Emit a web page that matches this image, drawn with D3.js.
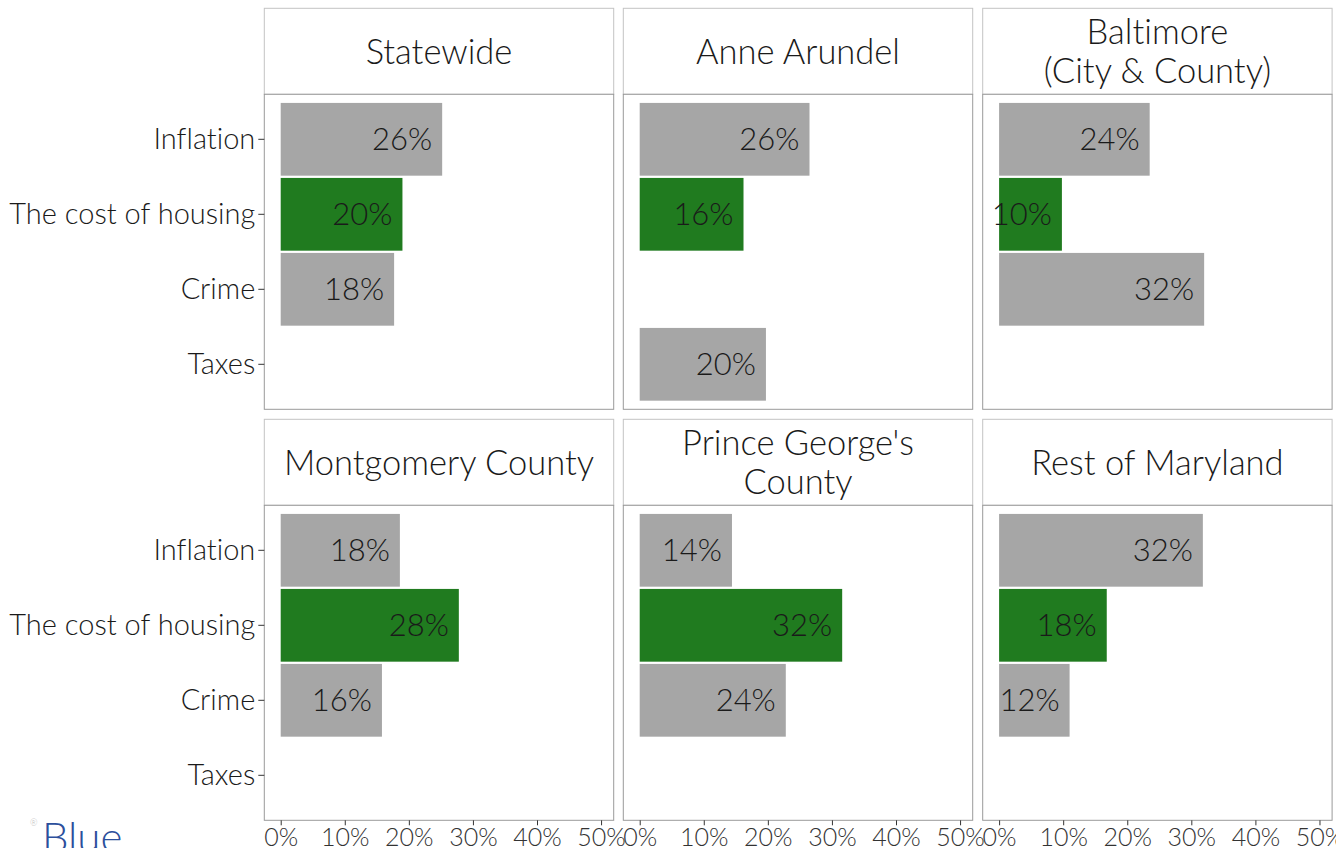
<!DOCTYPE html>
<html>
<head>
<meta charset="utf-8">
<script src="https://cdn.jsdelivr.net/npm/d3@7"></script>
<style>
  body { margin: 0; background: #fff; }
  svg { display: block; font-family: "Lato", "Helvetica Neue", sans-serif; font-weight: 300; font-variant-ligatures: none; }
  svg text { font-family: "Lato", "Helvetica Neue", sans-serif; font-weight: 300; }
</style>
</head>
<body>
<script>
// Chart data
var categories = ["Inflation", "The cost of housing", "Crime", "Taxes"];
var regions = ["Statewide", "Anne Arundel", "Baltimore\n(City & County)",
  "Montgomery County", "Prince George's\nCounty", "Rest of Maryland"];

// bar lengths (percent), one entry per region, null = not shown
var inflation = [25.2, 26.5, 23.5, 18.6, 14.4, 31.8];
var housing   = [19.0, 16.2, 9.8, 27.8, 31.6, 16.8];
var crime     = [17.7, null, 32.0, 15.8, 22.8, 11.0];
var taxes     = [null, 19.7, null, null, null, null];

// printed labels (percent)
var inflationLabels = [26, 26, 24, 18, 14, 32];
var housingLabels   = [20, 16, 10, 28, 32, 18];
var crimeLabels     = [18, null, 32, 16, 24, 12];
var taxesLabels     = [null, 20, null, null, null, null];

var xTicks = [0, 10, 20, 30, 40, 50];
var highlight = "The cost of housing";

// Chart params
var svgWidth = 1336;
var svgHeight = 848;
var panelWidth = 349.4;
var panelHeight = 315;
var stripHeight = 86;
var colX = [264.3, 623.3, 982.7];
var rowY = [8.3, 419.3];

var seriesValues = [inflation, housing, crime, taxes];
var seriesLabels = [inflationLabels, housingLabels, crimeLabels, taxesLabels];

var svg = d3.select("body")
  .append("svg")
  .attr("width", svgWidth)
  .attr("height", svgHeight);

var xScale = d3.scaleLinear()
  .domain([-2.56, 51.97])
  .range([0, panelWidth]);

// 0.6 step of padding round the categories, bars 0.97 of a step
var yScale = d3.scaleBand()
  .domain(categories)
  .range([0, panelHeight])
  .paddingInner(0.03)
  .paddingOuter(0.115);

regions.forEach(function(region, i) {
  var col = i % 3;
  var row = Math.floor(i / 3);

  var g = svg.append("g")
    .attr("transform", `translate(${colX[col]}, ${rowY[row]})`);

  // strip
  g.append("rect")
    .attr("width", panelWidth)
    .attr("height", stripHeight)
    .attr("fill", "#fff")
    .attr("stroke", "#c4c4c4")
    .attr("stroke-width", 1);

  var lines = region.split("\n");
  var lineH = 39;
  var strip = g.append("text")
    .attr("x", panelWidth / 2)
    .attr("text-anchor", "middle")
    .style("font-size", "34.5px")
    .attr("fill", "#1a1a1a");
  lines.forEach(function(line, k) {
    strip.append("tspan")
      .attr("x", panelWidth / 2)
      .attr("y", stripHeight / 2 + (k - (lines.length - 1) / 2) * lineH)
      .attr("dy", "0.36em")
      .text(line);
  });

  var panel = g.append("g")
    .attr("transform", `translate(0, ${stripHeight})`);

  panel.append("rect")
    .attr("width", panelWidth)
    .attr("height", panelHeight)
    .attr("fill", "#fff");

  var rows = categories.map(function(c, j) {
    return { cat: c, value: seriesValues[j][i], label: seriesLabels[j][i] };
  }).filter(function(d) { return d.value != null; });

  panel.selectAll(".bar")
    .data(rows)
    .enter()
    .append("rect")
    .attr("class", "bar")
    .attr("x", xScale(0))
    .attr("y", d => yScale(d.cat))
    .attr("width", d => xScale(d.value) - xScale(0))
    .attr("height", yScale.bandwidth())
    .attr("fill", d => d.cat === highlight ? "#207b1f" : "#a6a6a6");

  panel.selectAll(".lbl")
    .data(rows)
    .enter()
    .append("text")
    .attr("class", "lbl")
    .attr("x", d => xScale(d.value) - 10)
    .attr("y", d => yScale(d.cat) + yScale.bandwidth() / 2)
    .attr("dy", "0.36em")
    .attr("text-anchor", "end")
    .style("font-size", "31px")
    .attr("fill", "#1a1a1a")
    .text(d => d.label + "%");

  panel.append("rect")
    .attr("width", panelWidth)
    .attr("height", panelHeight)
    .attr("fill", "none")
    .attr("stroke", "#9a9a9a")
    .attr("stroke-width", 1);

  // y axis on first column
  if (col === 0) {
    var yAxis = panel.append("g")
      .call(d3.axisLeft(yScale).tickSize(6).tickPadding(3))
      .attr("font-family", null);
    yAxis.select(".domain").remove();
    yAxis.selectAll("line").attr("stroke", "#333");
    yAxis.selectAll("text")
      .style("font-size", "29px")
      .attr("fill", "#1a1a1a");
  }

  // x axis on bottom row
  if (row === 1) {
    var xAxis = panel.append("g")
      .attr("transform", `translate(0, ${panelHeight})`)
      .call(d3.axisBottom(xScale).tickValues(xTicks).tickFormat(d => d + "%").tickSize(5).tickPadding(3))
      .attr("font-family", null);
    xAxis.select(".domain").remove();
    xAxis.selectAll("line").attr("stroke", "#333");
    xAxis.selectAll("text")
      .style("font-size", "25px")
      .attr("fill", "#333");
  }
});

// logo fragment, bottom left
svg.append("text")
  .attr("x", 42)
  .attr("y", 852)
  .style("font-size", "42px")
  .attr("fill", "#2c4f9c")
  .text("Blue");
svg.append("text")
  .attr("x", 30)
  .attr("y", 826)
  .style("font-size", "9px")
  .attr("fill", "#bbb")
  .text("®");
</script>
</body>
</html>
